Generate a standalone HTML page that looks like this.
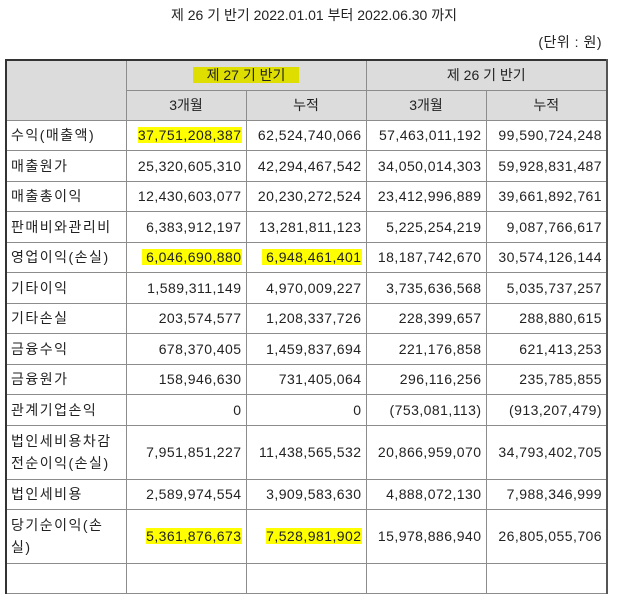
<!DOCTYPE html>
<html><head><meta charset="utf-8">
<style>
body{margin:0;background:#fff;width:628px;height:569px;overflow:hidden;position:relative;font-family:"Liberation Sans","Noto Sans CJK KR","NanumGothic",sans-serif;color:#222;}
.title{position:absolute;top:5px;left:0;width:628px;text-align:center;font-size:14px;}
.unit{position:absolute;top:32px;right:26px;font-size:14px;letter-spacing:0.5px;}
table{position:absolute;left:5px;top:59px;border-collapse:collapse;table-layout:fixed;width:601px;font-size:14px;}
td{border:1px solid #8c8c8c;padding:0 4px;white-space:nowrap;overflow:hidden;}
tr.h td{background:#dcdcdc;text-align:center;}
td.n{text-align:right;letter-spacing:0.45px;}
td.l{text-align:left;letter-spacing:1.5px;line-height:22px;}
.hl{background:#ffff00;}
.hh{background:#dede00;padding:0 14px 0 14px;}
table{border-left:2px solid #333;border-top:2px solid #333;border-right:2px solid #555;}
</style></head><body>
<div class="title">제 26 기 반기 2022.01.01 부터 2022.06.30 까지</div>
<div class="unit">(단위 : 원)</div>
<table>
<colgroup><col style="width:120px"><col style="width:120px"><col style="width:120px"><col style="width:120px"><col style="width:121px"></colgroup>
<tr class="h" style="height:30px"><td rowspan="2"></td><td colspan="2"><span class="hh">제 27 기 반기</span></td><td colspan="2">제 26 기 반기</td></tr>
<tr class="h" style="height:30px"><td>3개월</td><td>누적</td><td>3개월</td><td>누적</td></tr>
<tr style="height:30.5px"><td class="l">수익(매출액)</td><td class="n"><span class="hl">37,751,208,387</span></td><td class="n">62,524,740,066</td><td class="n">57,463,011,192</td><td class="n">99,590,724,248</td></tr>
<tr style="height:30.5px"><td class="l">매출원가</td><td class="n">25,320,605,310</td><td class="n">42,294,467,542</td><td class="n">34,050,014,303</td><td class="n">59,928,831,487</td></tr>
<tr style="height:30.5px"><td class="l">매출총이익</td><td class="n">12,430,603,077</td><td class="n">20,230,272,524</td><td class="n">23,412,996,889</td><td class="n">39,661,892,761</td></tr>
<tr style="height:30.5px"><td class="l">판매비와관리비</td><td class="n">6,383,912,197</td><td class="n">13,281,811,123</td><td class="n">5,225,254,219</td><td class="n">9,087,766,617</td></tr>
<tr style="height:30.5px"><td class="l">영업이익(손실)</td><td class="n"><span class="hl">&nbsp;6,046,690,880</span></td><td class="n"><span class="hl">&nbsp;6,948,461,401</span></td><td class="n">18,187,742,670</td><td class="n">30,574,126,144</td></tr>
<tr style="height:30.5px"><td class="l">기타이익</td><td class="n">1,589,311,149</td><td class="n">4,970,009,227</td><td class="n">3,735,636,568</td><td class="n">5,035,737,257</td></tr>
<tr style="height:30.5px"><td class="l">기타손실</td><td class="n">203,574,577</td><td class="n">1,208,337,726</td><td class="n">228,399,657</td><td class="n">288,880,615</td></tr>
<tr style="height:30.5px"><td class="l">금융수익</td><td class="n">678,370,405</td><td class="n">1,459,837,694</td><td class="n">221,176,858</td><td class="n">621,413,253</td></tr>
<tr style="height:30.5px"><td class="l">금융원가</td><td class="n">158,946,630</td><td class="n">731,405,064</td><td class="n">296,116,256</td><td class="n">235,785,855</td></tr>
<tr style="height:30.5px"><td class="l">관계기업손익</td><td class="n">0</td><td class="n">0</td><td class="n">(753,081,113)</td><td class="n">(913,207,479)</td></tr>
<tr style="height:54px"><td class="l">법인세비용차감<br>전순이익(손실)</td><td class="n">7,951,851,227</td><td class="n">11,438,565,532</td><td class="n">20,866,959,070</td><td class="n">34,793,402,705</td></tr>
<tr style="height:30px"><td class="l">법인세비용</td><td class="n">2,589,974,554</td><td class="n">3,909,583,630</td><td class="n">4,888,072,130</td><td class="n">7,988,346,999</td></tr>
<tr style="height:54px"><td class="l">당기순이익(손<br>실)</td><td class="n"><span class="hl">5,361,876,673</span></td><td class="n"><span class="hl">7,528,981,902</span></td><td class="n">15,978,886,940</td><td class="n">26,805,055,706</td></tr>
<tr style="height:30px"><td></td><td></td><td></td><td></td><td></td></tr>
</table>
</body></html>
